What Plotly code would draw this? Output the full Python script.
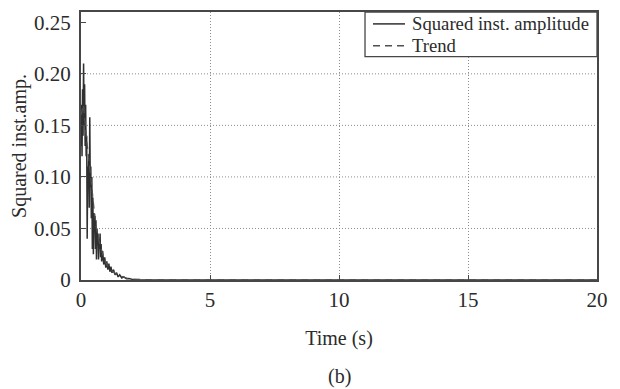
import plotly.graph_objects as go

# Squared instantaneous amplitude of the decaying response
t_amp = [0.00, 0.02, 0.04, 0.06, 0.08, 0.10, 0.12, 0.14, 0.16, 0.18,
         0.20, 0.22, 0.24, 0.26, 0.28, 0.30, 0.32, 0.34, 0.36, 0.38,
         0.40, 0.42, 0.44, 0.46, 0.48, 0.50, 0.52, 0.54, 0.56, 0.58,
         0.60, 0.62, 0.64, 0.66, 0.68, 0.70, 0.72, 0.74, 0.76, 0.78,
         0.80, 0.84, 0.88, 0.92, 0.96, 1.00, 1.04, 1.08, 1.12, 1.16,
         1.20, 1.26, 1.32, 1.38, 1.44, 1.50, 1.58, 1.66, 1.76, 1.86,
         2.00, 2.20, 2.50, 3.00, 20.0]
amp = [0.130, 0.170, 0.120, 0.185, 0.140, 0.210, 0.150, 0.190, 0.130, 0.170,
       0.120, 0.140, 0.040, 0.110, 0.090, 0.120, 0.070, 0.158, 0.090, 0.110,
       0.060, 0.100, 0.030, 0.080, 0.025, 0.065, 0.050, 0.062, 0.030, 0.058,
       0.020, 0.050, 0.035, 0.045, 0.020, 0.040, 0.030, 0.045, 0.022, 0.035,
       0.018, 0.028, 0.015, 0.022, 0.012, 0.018, 0.010, 0.016, 0.008, 0.013,
       0.007, 0.010, 0.005, 0.007, 0.003, 0.005, 0.002, 0.003, 0.0012, 0.0015,
       0.0006, 0.0003, 0.0001, 0.0, 0.0]

# Smoothed trend of the same quantity
t_trend = [0.0, 0.1, 0.2, 0.3, 0.4, 0.5, 0.6, 0.7, 0.8, 0.9,
           1.0, 1.2, 1.4, 1.6, 1.8, 2.0, 2.5, 3.0, 20.0]
trend = [0.160, 0.170, 0.140, 0.120, 0.095, 0.070, 0.050, 0.038, 0.028, 0.020,
         0.015, 0.009, 0.005, 0.003, 0.0015, 0.0008, 0.0002, 0.0, 0.0]

series_names = ["Squared inst. amplitude", "Trend"]

x_ticks = [0, 5, 10, 15, 20]
y_ticks = [0, 0.05, 0.10, 0.15, 0.20, 0.25]
y_tick_text = ["0", "0.05", "0.10", "0.15", "0.20", "0.25"]
y_grid = [0.05, 0.10, 0.15, 0.20]

FONT = "Liberation Serif"
INK = "#2b2b2b"
FRAME = "#474747"
GRID = "#8c8c8c"
GRID_DASH = "1px,2px"
SOLID = "#303030"
DASHED = "#505050"
DASH = "7px,5px"

fig = go.Figure()
fig.add_trace(go.Scatter(
    x=t_amp, y=amp, mode="lines", name=series_names[0],
    line=dict(color=SOLID, width=1.5), showlegend=False,
))
fig.add_trace(go.Scatter(
    x=t_trend, y=trend, mode="lines", name=series_names[1],
    line=dict(color=DASHED, width=1.3, dash=DASH), showlegend=False,
))

# horizontal dotted grid (no line at the top tick)
shapes = [
    dict(type="line", xref="paper", yref="y", x0=0, x1=1, y0=g, y1=g,
         line=dict(color=GRID, width=1, dash=GRID_DASH), layer="below")
    for g in y_grid
]

# compact boxed key in the upper-right corner
key_left, key_bottom = 0.5504, 0.8333
row_y = [0.9556, 0.8741]
sample_x = (0.5659, 0.6279)
text_x = 0.6376
shapes.append(dict(type="rect", xref="paper", yref="paper",
                   x0=key_left, x1=1, y0=key_bottom, y1=1,
                   line=dict(color=FRAME, width=1.3), fillcolor="white",
                   layer="above"))
shapes.append(dict(type="line", xref="paper", yref="paper",
                   x0=sample_x[0], x1=sample_x[1], y0=row_y[0], y1=row_y[0],
                   line=dict(color=SOLID, width=1.5)))
shapes.append(dict(type="line", xref="paper", yref="paper",
                   x0=sample_x[0], x1=sample_x[1], y0=row_y[1], y1=row_y[1],
                   line=dict(color=DASHED, width=1.3, dash=DASH)))

annotations = [
    dict(text=name, xref="paper", yref="paper", x=text_x, y=yy,
         xanchor="left", yanchor="middle", showarrow=False,
         font=dict(family=FONT, size=18.7, color=INK))
    for name, yy in zip(series_names, row_y)
]
annotations.append(dict(
    text="(b)", xref="paper", yref="paper", x=0.5, y=-0.36,
    xanchor="center", yanchor="middle", showarrow=False,
    font=dict(family=FONT, size=20, color=INK),
))

fig.update_layout(
    width=620, height=389,
    margin=dict(l=81, r=23, t=10, b=109),
    paper_bgcolor="white", plot_bgcolor="white",
    font=dict(family=FONT, color=INK, size=21),
    showlegend=False,
    shapes=shapes,
    annotations=annotations,
    xaxis=dict(
        range=[0, 20], tickvals=x_ticks, ticktext=[str(v) for v in x_ticks],
        showgrid=True, gridcolor=GRID, griddash=GRID_DASH, gridwidth=1,
        showline=True, linecolor=FRAME, linewidth=2, mirror=True,
        ticks="inside", ticklen=5, tickcolor=FRAME, zeroline=False,
        title=dict(text="Time (s)", font=dict(size=20), standoff=20),
    ),
    yaxis=dict(
        range=[0, 0.26], tickvals=y_ticks, ticktext=y_tick_text,
        showgrid=False,
        showline=True, linecolor=FRAME, linewidth=2, mirror=True,
        ticks="inside", ticklen=5, tickcolor=FRAME, zeroline=False,
        ticklabelstandoff=4,
        title=dict(text="Squared inst.amp.", font=dict(size=20), standoff=2),
    ),
)

fig.write_html("out.html")
